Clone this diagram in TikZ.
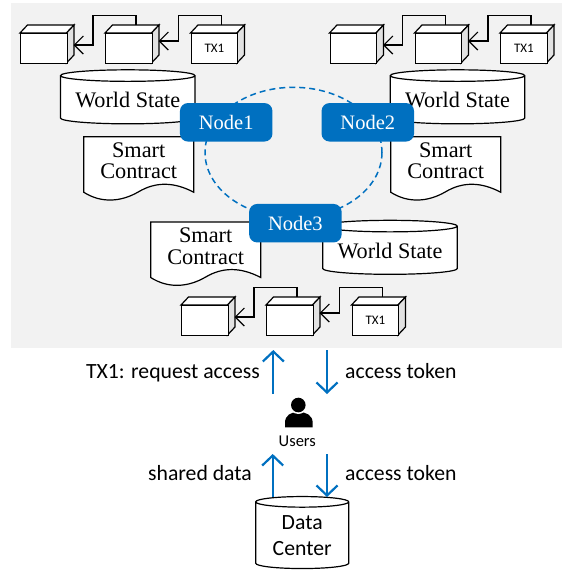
\documentclass[tikz,border=0pt]{standalone}
\usepackage{fontspec}
\setmainfont{Carlito}
\newfontfamily\nodeface{Liberation Serif}
\usetikzlibrary{arrows.meta, shapes.geometric}
\definecolor{panelgray}{HTML}{F2F2F2}
\definecolor{sidegray}{HTML}{E2E2E2}
\definecolor{nodeblue}{HTML}{0070C0}
\tikzset{link/.style={line width=1.2pt, -{Straight Barb[length=9pt, width=18pt, line width=1.2pt]}}}
\tikzset{flow/.style={line width=2.2pt, nodeblue, -{Straight Barb[length=10pt, width=21pt, line width=2.2pt]}}}
\tikzset{peer/.style={rectangle, rounded corners=8pt, fill=nodeblue, text=white, minimum width=92.5pt, minimum height=38.5pt, inner sep=0pt, font=\nodeface\fontsize{20.5}{22}\selectfont}}
\tikzset{store/.style={cylinder, shape border rotate=90, draw, fill=white, line width=1.2pt, shape aspect=#1, inner sep=0pt}}
\tikzset{serifstore/.style={store=0.11, minimum width=134.5pt, minimum height=54pt, font=\nodeface\fontsize{22.2}{22}\selectfont}}
\tikzset{caption/.style={font=\fontsize{21.7}{25.5}\selectfont, inner sep=0pt}}
\tikzset{pics/block/.style={code={
    \filldraw[line width=1.2pt, fill=white] (0,0) -- (7.5,-8) -- (54,-8) -- (46.5,0) -- cycle;
    \filldraw[line width=1.2pt, fill=sidegray] (46.5,0) -- (54,-8) -- (54,22) -- (46.5,30) -- cycle;
    \node[draw, fill=white, line width=1.2pt, anchor=north west, minimum width=46.5pt, minimum height=30pt, inner sep=0pt, font=\fontsize{13}{13}\selectfont] (-front) at (0,0) {#1};
    \coordinate (-top) at (31,-8);
    \coordinate (-side) at (53.5,12);
}}}
\tikzset{pics/block/.default={}}
\tikzset{pics/contract/.style={code={
    \filldraw[line width=1.2pt, fill=white] (0,0) -- (110,0) -- (110,55.5) .. controls (90,45) and (72,45) .. (55,55) .. controls (38,65) and (18,67) .. (0,55.5) -- cycle;
    \node[align=center, inner sep=0pt, font=\nodeface\fontsize{22.3}{21.5}\selectfont] (-text) at (55,24) {Smart\\Contract};
}}}

\begin{document}
\begin{tikzpicture}[x=1pt, y=-1pt]
    \useasboundingbox (0,0) rectangle (562,574);
    \fill[panelgray] (11,3) rectangle (562,348);

    % transaction chains
    \foreach \name/\xpos/\ypos in {L/20/33, R/329.5/33, B/181/305} {
        \begin{scope}[shift={(\xpos,\ypos)}]
            \pic (\name1) at (0,0) {block};
            \pic (\name2) at (85,0) {block};
            \pic (\name3) at (170.5,0) {block={TX1}};
            \draw[link] (\name2-top) -- ++(0,-9.5) -- ++(-43,0) |- (\name1-side);
            \draw[link] (\name3-top) -- ++(0,-9.5) -- ++(-43,0) |- ([yshift=4pt]\name2-side);
        \end{scope}
    }

    % ledgers
    \node[serifstore] (stateL) at (127.75,100) {World State};
    \node[serifstore] (stateR) at (457.5,100) {World State};
    \node[serifstore] (stateB) at (390,250.5) {World State};
    \pic (docL) at (83.7,136.7) {contract};
    \pic (docR) at (390.7,136.7) {contract};
    \pic (docB) at (150.7,222) {contract};

    % peers
    \draw[nodeblue, line width=1.5pt, dash pattern=on 6pt off 4pt] (293.5,152.5) ellipse [x radius=88.5, y radius=65.2];
    \node[peer] (peerA) at (226.2,122.3) {Node1};
    \node[peer] (peerB) at (367.8,122.3) {Node2};
    \node[peer] (peerC) at (295.4,223.2) {Node3};

    % users and data center
    \fill (285,427.3) -- (285,423) .. controls (285,415) and (291,412) .. (298.5,412) .. controls (306,412) and (312.7,415) .. (312.7,423) -- (312.7,427.3) -- cycle;
    \fill[white] (298.3,405) circle [radius=9];
    \fill (298.3,405) circle [radius=7.3];
    \node[inner sep=0pt, anchor=base, font=\fontsize{16.5}{16.5}\selectfont] (users) at (297.3,446) {Users};
    \node[store=0.18, minimum width=93pt, minimum height=72pt, align=center, font=\fontsize{21.7}{25.5}\selectfont] (center) at (302.2,535.5) {Data\\Center};

    \coordinate (reqstart) at (273.3,394);
    \coordinate (reqend) at (273.3,350);
    \coordinate (tokstart) at (327,350);
    \coordinate (tokend) at (327,394);
    \coordinate (sharestart) at (272.7,496.7);
    \coordinate (shareend) at (272.7,454);
    \coordinate (grantstart) at (327,454);
    \coordinate (grantend) at (327,497);
    \draw[flow] (reqstart) -- (reqend);
    \draw[flow] (tokstart) -- (tokend);
    \draw[flow] (sharestart) -- (shareend);
    \draw[flow] (grantstart) -- (grantend);
    \node[caption, anchor=base east] (reqlabel) at (260,378) {TX1: request access};
    \node[caption, anchor=base west] (toklabel) at (345,378) {access token};
    \node[caption, anchor=base east] (sharelabel) at (252,480) {shared data};
    \node[caption, anchor=base west] (grantlabel) at (345,480) {access token};
\end{tikzpicture}
\end{document}
